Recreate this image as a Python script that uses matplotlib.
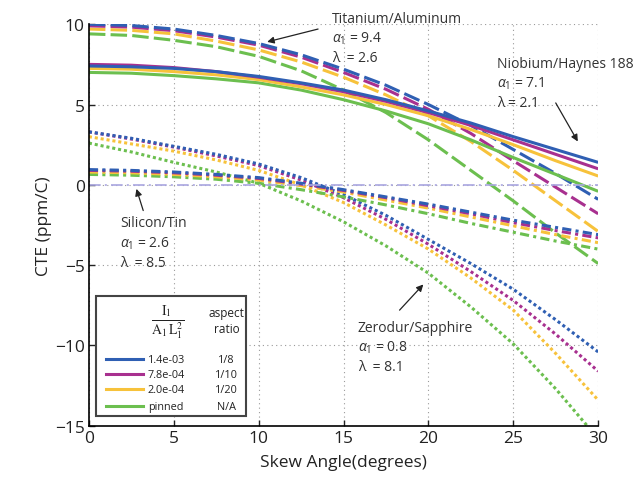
import matplotlib
matplotlib.use("Agg")
import matplotlib.pyplot as plt
from matplotlib.lines import Line2D
from matplotlib.patches import Rectangle

# --- [ CTE vs skew angle for four material pairs ] ---

SKEW_ANGLE = [0, 2.5, 5, 7.5, 10, 12.5, 15, 17.5, 20, 22.5, 25, 27.5, 30]

# Titanium/Aluminum (long dashes)
TI_AL = {
    "blue": [10.0, 9.92, 9.7, 9.3, 8.8, 8.1, 7.2, 6.2, 5.0, 3.7, 2.2, 0.7, -0.9],
    "magenta": [9.9, 9.82, 9.6, 9.2, 8.7, 7.95, 7.0, 5.95, 4.7, 3.2, 1.5, -0.15, -1.8],
    "yellow": [9.7, 9.62, 9.4, 8.95, 8.4, 7.65, 6.7, 5.6, 4.3, 2.7, 0.9, -1.0, -2.9],
    "green": [9.4, 9.3, 9.0, 8.6, 8.0, 7.1, 5.9, 4.5, 2.8, 0.9, -1.0, -3.0, -4.9],
}

# Niobium/Haynes 188 (solid)
NB_HA = {
    "blue": [7.4, 7.35, 7.25, 7.05, 6.75, 6.35, 5.9, 5.3, 4.6, 3.85, 3.0, 2.2, 1.4],
    "magenta": [7.5, 7.45, 7.3, 7.05, 6.7, 6.3, 5.8, 5.2, 4.5, 3.7, 2.8, 1.9, 1.0],
    "yellow": [7.25, 7.2, 7.05, 6.85, 6.55, 6.1, 5.6, 5.0, 4.3, 3.45, 2.5, 1.5, 0.55],
    "green": [7.0, 6.95, 6.8, 6.6, 6.35, 5.9, 5.3, 4.6, 3.8, 2.8, 1.7, 0.65, -0.4],
}

# Zerodur/Sapphire (dotted)
ZE_SA = {
    "blue": [3.3, 2.9, 2.4, 1.9, 1.3, 0.45, -0.6, -1.9, -3.4, -4.9, -6.5, -8.4, -10.4],
    "magenta": [3.3, 2.85, 2.35, 1.8, 1.2, 0.3, -0.8, -2.15, -3.7, -5.4, -7.2, -9.3, -11.6],
    "yellow": [3.0, 2.55, 2.1, 1.55, 0.9, 0.0, -1.1, -2.5, -4.0, -5.8, -7.8, -10.5, -13.4],
    "green": [2.6, 2.05, 1.4, 0.8, 0.1, -1.0, -2.3, -3.8, -5.5, -7.6, -9.9, -12.7, -15.8],
}

# Silicon/Tin (dash-dot)
SI_SN = {
    "blue": [0.95, 0.9, 0.8, 0.65, 0.45, 0.1, -0.3, -0.75, -1.2, -1.7, -2.2, -2.65, -3.1],
    "magenta": [0.9, 0.85, 0.75, 0.6, 0.4, 0.05, -0.35, -0.8, -1.3, -1.8, -2.35, -2.85, -3.3],
    "yellow": [0.8, 0.75, 0.65, 0.5, 0.3, -0.05, -0.45, -0.95, -1.45, -2.0, -2.55, -3.1, -3.6],
    "green": [0.65, 0.6, 0.5, 0.35, 0.1, -0.3, -0.75, -1.25, -1.8, -2.4, -2.95, -3.5, -4.0],
}

ZERO_LINE = [0] * len(SKEW_ANGLE)

LEGEND_KEYS = ["blue", "magenta", "yellow", "green"]
LEGEND_STIFFNESS = ["1.4e-03", "7.8e-04", "2.0e-04", "pinned"]
LEGEND_ASPECT = ["1/8", "1/10", "1/20", "N/A"]

COLORS = {
    "blue": "#2f5fb3",
    "magenta": "#a8308f",
    "yellow": "#f7c23b",
    "green": "#6cbf4f",
}

FONT = "Open Sans"
plt.rcParams["font.family"] = [FONT, "DejaVu Sans"]
plt.rcParams["mathtext.fontset"] = "custom"
plt.rcParams["mathtext.rm"] = FONT
plt.rcParams["mathtext.it"] = FONT + ":italic"

LW = 2.2
GROUP_STYLES = [
    (TI_AL, (0, (5.4, 1.7))),
    (NB_HA, "-"),
    (ZE_SA, (0, (1.0, 0.95))),
    (SI_SN, (0, (3.0, 1.4, 1.0, 1.4))),
]

fig = plt.figure(figsize=(6.35, 4.85), dpi=100)
ax = fig.add_axes([0.140, 0.120, 0.802, 0.828])

for group, style in GROUP_STYLES:
    for key in ["green", "yellow", "magenta", "blue"]:
        ax.plot(SKEW_ANGLE, group[key], color=COLORS[key], lw=LW,
                linestyle=style, solid_capstyle="butt", dash_capstyle="butt")

ax.plot(SKEW_ANGLE, ZERO_LINE, color="#a9a6e0", lw=1.2,
        linestyle=(0, (7, 2.5, 1.2, 2.5)))

ax.set_xlim(0, 30)
ax.set_ylim(-15, 10)
ax.set_xticks(range(0, 31, 5))
ax.set_yticks(range(-15, 11, 5))
ax.set_yticklabels(["\u221215", "\u221210", "\u22125", "0", "5", "10"])
ax.grid(True, linestyle=(0, (1, 3)), color="#9a9a9a", lw=0.8)
ax.spines["top"].set_visible(False)
ax.spines["right"].set_visible(False)
ax.spines["left"].set_linewidth(1.2)
ax.spines["bottom"].set_linewidth(1.2)
ax.tick_params(direction="in", length=4, width=1.0, labelsize=12.5,
               colors="#222222", pad=3)
ax.set_xlabel("Skew Angle(degrees)", fontsize=12.5, color="#222222", labelpad=6)
ax.set_ylabel("CTE (ppm/C)", fontsize=12.5, color="#222222", labelpad=2)

# annotations
ANNOT_SIZE = 10
labels = [
    ("Titanium/Aluminum\n$\\alpha_1$ = 9.4\n\u03bb  = 2.6", (14.3, 10.85), (13.5, 9.7), (10.5, 8.9)),
    ("Niobium/Haynes 188\n$\\alpha_1$ = 7.1\n\u03bb = 2.1", (24.05, 8.05), (27.5, 5.1), (28.8, 2.7)),
    ("Silicon/Tin\n$\\alpha_1$ = 2.6\n\u03bb  = 8.5", (1.83, -1.9), (3.2, -1.6), (2.8, -0.25)),
    ("Zerodur/Sapphire\n$\\alpha_1$ = 0.8\n\u03bb  = 8.1", (15.85, -8.4), (18.3, -7.8), (19.7, -6.2)),
]
for text, text_pos, tail, head in labels:
    ax.text(text_pos[0], text_pos[1], text, fontsize=ANNOT_SIZE, color="#333333",
            ha="left", va="top", linespacing=1.35, clip_on=False)
    ax.annotate("", xy=head, xytext=tail,
                arrowprops=dict(arrowstyle="-|>", color="#222222", lw=0.9,
                                mutation_scale=10, shrinkA=0, shrinkB=0))

# custom legend box
box = Rectangle((0.014, 0.025), 0.294, 0.297, transform=ax.transAxes,
                facecolor="white", edgecolor="#444444", lw=1.5, zorder=5)
ax.add_patch(box)
ax.text(0.155, 0.258, r"$\frac{\mathrm{I_1}}{\mathrm{A_1\,L_1^2}}$", transform=ax.transAxes,
        fontsize=14, ha="center", va="center", math_fontfamily="stix", zorder=6,
        color="#222222")
ax.text(0.270, 0.262, "aspect\nratio", transform=ax.transAxes, fontsize=8.5,
        ha="center", va="center", linespacing=1.3, zorder=6, color="#222222")
row_y = [0.166, 0.128, 0.091, 0.049]
for key, stiff, aspect, y in zip(LEGEND_KEYS, LEGEND_STIFFNESS, LEGEND_ASPECT, row_y):
    ax.add_line(Line2D([0.033, 0.106], [y, y], transform=ax.transAxes,
                       color=COLORS[key], lw=2.2, zorder=6))
    ax.text(0.116, y, stiff, transform=ax.transAxes, fontsize=7.8,
            ha="left", va="center", zorder=6, color="#222222")
    ax.text(0.270, y, aspect, transform=ax.transAxes, fontsize=7.8,
            ha="center", va="center", zorder=6, color="#222222")

fig.savefig("out.png", dpi=100)
